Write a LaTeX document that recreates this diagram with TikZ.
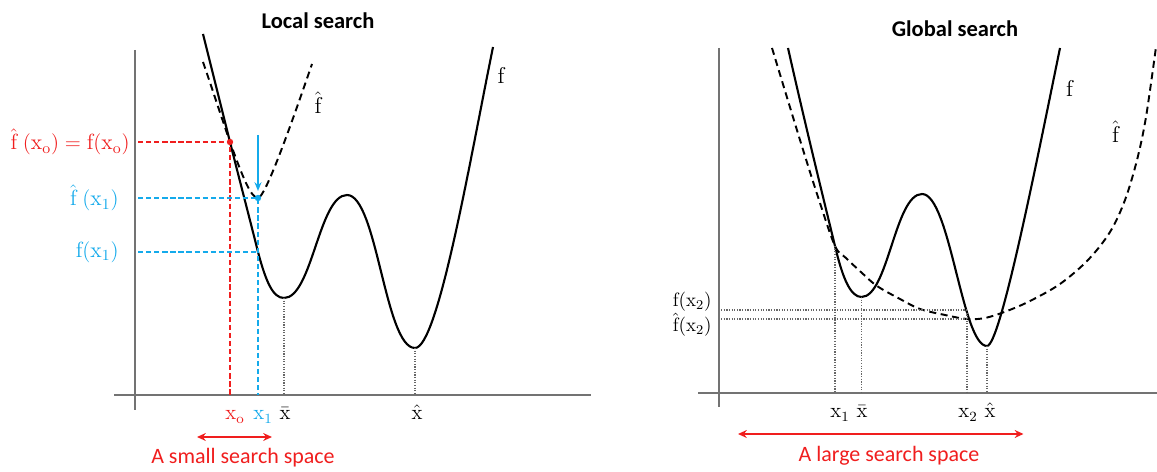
\documentclass[tikz,border=0pt]{standalone}
\usepackage{fontspec}
\newfontfamily\carlito{Carlito}
\usetikzlibrary{arrows.meta}
\definecolor{myred}{RGB}{240,30,30}
\definecolor{myblue}{RGB}{20,170,235}
\definecolor{axisgray}{RGB}{115,115,115}
\begin{document}
\begin{tikzpicture}[x=0.02cm,y=-0.02cm,
  fcurve/.style={line width=1.2pt,black},
  fhat/.style={line width=1.1pt,black,dash pattern=on 4pt off 2.6pt},
  axisline/.style={line width=0.9pt,axisgray},
  reddash/.style={line width=0.9pt,myred,dash pattern=on 3pt off 1.6pt},
  bluedash/.style={line width=0.9pt,myblue,dash pattern=on 3pt off 1.6pt},
  guide/.style={line width=0.7pt,black!60,dash pattern=on 0.7pt off 0.8pt},
  ttl/.style={font=\carlito\bfseries\fontsize{12.8}{14}\selectfont},
  capt/.style={font=\carlito\fontsize{12.5}{14}\selectfont,text=myred},
  lbl/.style={font=\fontsize{12.5}{14}\selectfont,inner sep=0pt},
  lbls/.style={font=\fontsize{11}{13}\selectfont,inner sep=0pt},
  xlbl/.style={font=\fontsize{12}{14}\selectfont,inner sep=0pt,anchor=base},
  flbl/.style={font=\fontsize{13}{15}\selectfont,inner sep=0pt},
  spanarrow/.style={myred,line width=1.1pt,{Stealth[length=5pt,width=4.5pt]}-{Stealth[length=5pt,width=4.5pt]}},
]
\useasboundingbox (0,0) rectangle (1157,472);

% ================= LEFT: Local search =================
\node[ttl] (t1) at (318,21) {Local search};

\coordinate (LyT) at (135,50);
\coordinate (LyB) at (135,410);
\coordinate (LxL) at (114,395);
\coordinate (LxR) at (591,395);
\draw[axisline] (LyT) -- (LyB);
\draw[axisline] (LxL) -- (LxR);

% f
\coordinate (A0) at (203,34);
\coordinate (T)  at (230,142);
\coordinate (F1) at (258,252);
\coordinate (M1) at (284,298);
\coordinate (MX) at (347,195);
\coordinate (M2) at (415,348);
\coordinate (A5) at (493,47);
\draw[fcurve] (A0) .. controls (212,70) and (221,106) .. (T)
  .. controls (239,178) and (249,216) .. (F1)
  .. controls (266,282) and (273,298) .. (M1)
  .. controls (312,298) and (319,195) .. (MX)
  .. controls (377,195) and (385,348) .. (M2)
  .. controls (438,348) and (470,160) .. (A5);

% f hat
\coordinate (H0) at (203,62);
\coordinate (H1) at (258,198);
\coordinate (H2) at (312,64);
\draw[fhat] (H0) .. controls (212,88) and (221,116) .. (T)
  .. controls (243,178) and (251,198) .. (H1)
  .. controls (265,198) and (290,128) .. (H2);

\node[flbl] (lf) at (501,75) {$\mathrm{f}$};
\node[flbl] (lfh) at (318,103) {$\hat{\mathrm{f}}$};

% red guides
\coordinate (yT) at (138,142);
\coordinate (xT) at (T |- LxL);
\draw[reddash] (yT) -- (T) -- (xT);
\fill[myred] (T) circle (3.2);
\node[lbl,text=myred,anchor=east] (lT) at (130,142) {$\hat{\mathrm{f}}\;(\mathrm{x_o}) = \mathrm{f}(\mathrm{x_o})$};

% blue guides
\coordinate (yH1) at (138,198);
\coordinate (xH1) at (H1 |- LxL);
\coordinate (yF1) at (138,252);
\draw[bluedash] (yH1) -- (H1) -- (xH1);
\draw[bluedash] (yF1) -- (F1);
\fill[myblue] (H1) circle (3.2);
\coordinate (arT) at (258,135);
\coordinate (arB) at (258,191);
\draw[myblue,line width=0.9pt,-{Stealth[length=5pt,width=4pt]}] (arT) -- (arB);
\node[lbl,text=myblue,anchor=east] (lH1) at (119,198) {$\hat{\mathrm{f}}\;(\mathrm{x_1})$};
\node[lbl,text=myblue,anchor=east] (lF1) at (119,252) {$\mathrm{f}(\mathrm{x_1})$};

% black dotted guides
\coordinate (xM1) at (M1 |- LxL);
\coordinate (xM2) at (M2 |- LxL);
\draw[guide] (M1) -- (xM1);
\draw[guide] (M2) -- (xM2);

% x labels
\node[xlbl,text=myred] (lx0) at (235,420) {$\mathrm{x_o}$};
\node[xlbl,text=myblue] (lx1) at (263,420) {$\mathrm{x_1}$};
\node[xlbl] (lxb) at (285,420) {$\bar{\mathrm{x}}$};
\node[xlbl] (lxh) at (417,420) {$\hat{\mathrm{x}}$};

\coordinate (sL) at (197,437);
\coordinate (sR) at (272,437);
\draw[spanarrow] (sL) -- (sR);
\node[capt] (cap1) at (243,458) {A small search space};

% ================= RIGHT: Global search =================
\node[ttl] (t2) at (955,29) {Global search};

\coordinate (RyT) at (719,48);
\coordinate (RyB) at (719,407);
\coordinate (RxL) at (698,393);
\coordinate (RxR) at (1157,393);
\draw[axisline] (RyT) -- (RyB);
\draw[axisline] (RxL) -- (RxR);

\coordinate (B0) at (788,48);
\coordinate (X1) at (835,246);
\coordinate (N1) at (861.5,297);
\coordinate (NX) at (922,194);
\coordinate (X2) at (967,310);
\coordinate (N2) at (987,346);
\coordinate (B5) at (1060,48);
\draw[fcurve] (B0) .. controls (803,115) and (822,193) .. (X1)
  .. controls (843,280) and (851,297) .. (N1)
  .. controls (888,297) and (895,194) .. (NX)
  .. controls (950,194) and (962,346) .. (N2)
  .. controls (1000,346) and (1035,170) .. (B5);

\coordinate (G0) at (772,48);
\coordinate (G1) at (1156,47);
\coordinate (X2h) at (967,319);
\draw[fhat] plot[smooth,tension=0.55] coordinates {(G0) (800,140) (819,200) (X1) (846,258) (862,273) (877,286) (900,299) (920,309) (945,315) (X2h) (985,318) (1007,311) (1030,301) (1060,284) (1088,260) (1110,232) (1125,200) (1137,160) (1146,117) (G1)};

\node[flbl] (rf) at (1069.5,88) {$\mathrm{f}$};
\node[flbl] (rfh) at (1115.5,132) {$\hat{\mathrm{f}}$};

\coordinate (yX2) at (721,310);
\coordinate (yX2h) at (721,319);
\draw[guide] (yX2) -- (X2);
\draw[guide] (yX2h) -- (X2h);
\draw[guide] (X1) -- (X1 |- RxL);
\draw[guide] (N1) -- (N1 |- RxL);
\draw[guide] (X2) -- (X2 |- RxL);
\draw[guide] (N2) -- (N2 |- RxL);

\node[lbls,anchor=east] (lfx2) at (712,302) {$\mathrm{f}(\mathrm{x_2})$};
\node[lbls,anchor=east] (lfhx2) at (712,325) {$\hat{\mathrm{f}}(\mathrm{x_2})$};

\node[xlbl] (rx1) at (840,418) {$\mathrm{x_1}$};
\node[xlbl] (rxb) at (862,418) {$\bar{\mathrm{x}}$};
\node[xlbl] (rx2) at (968,418) {$\mathrm{x_2}$};
\node[xlbl] (rxh) at (990,418) {$\hat{\mathrm{x}}$};

\coordinate (gL) at (738,434);
\coordinate (gR) at (1023.5,434);
\draw[spanarrow] (gL) -- (gR);
\node[capt] (cap2) at (889,456) {A large search space};
\end{tikzpicture}
\end{document}
